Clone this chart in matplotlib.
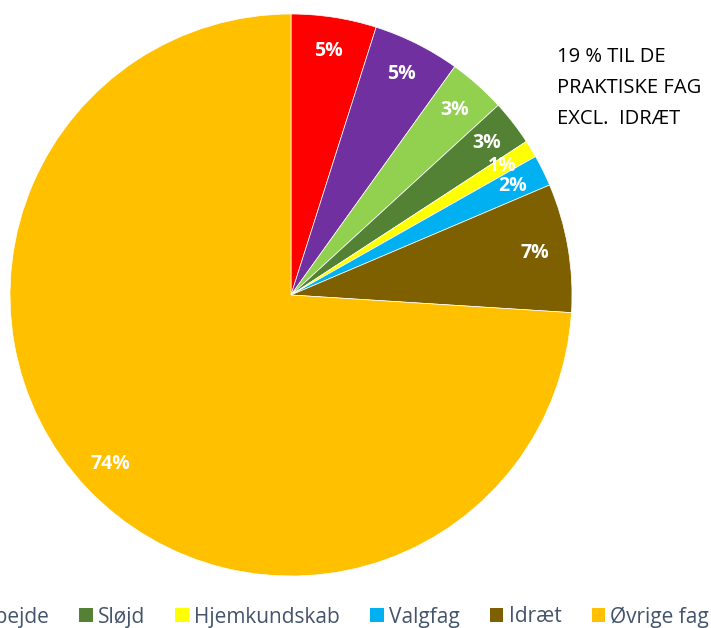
import matplotlib
matplotlib.use("Agg")
import matplotlib.pyplot as plt
from matplotlib.patches import Patch

categories = ["Billedkunst", "Musik", "Håndarbejde", "Sløjd", "Hjemkundskab",
              "Valgfag", "Idræt", "Øvrige fag"]
values = [4.9, 5.0, 3.3, 2.6, 1.0, 1.8, 7.4, 74.0]
colors = ["#FF0000", "#7030A0", "#92D050", "#548235", "#FFFF00",
          "#00B0F0", "#7F6000", "#FFC000"]
note = "19 % TIL DE\nPRAKTISKE FAG\nEXCL.  IDRÆT"

W, H = 711, 628
fig = plt.figure(figsize=(W / 100, H / 100), dpi=100)
cx, cy, R = 291, 295, 281
ax = fig.add_axes([(cx - R) / W, (H - cy - R) / H, 2 * R / W, 2 * R / H])

wedges, texts, autotexts = ax.pie(
    values, colors=colors, startangle=90, counterclock=False,
    autopct=lambda p: f"{p:.0f}%", pctdistance=0.88, radius=1,
    wedgeprops=dict(edgecolor="white", linewidth=0.5),
    textprops=dict(color="white", fontsize=14, fontweight="bold",
                   family=["Open Sans", "DejaVu Sans"]))
ax.set_xlim(-1, 1)
ax.set_ylim(-1, 1)
ax.set_aspect("equal")

fig.text(557 / W, 1 - 47 / H, note, ha="left", va="top", fontsize=14.5,
         linespacing=1.75, color="black", family=["Open Sans", "DejaVu Sans"])

handles = [Patch(facecolor=c, edgecolor="none") for c in colors]
fs = 15
leg = fig.legend(handles, categories, loc="center right",
                 bbox_to_anchor=(709 / W, 1 - 616 / H), ncol=len(categories),
                 frameon=False, handlelength=0.65, handleheight=0.65,
                 handletextpad=0.25, columnspacing=1.45, borderpad=0,
                 borderaxespad=0,
                 prop=dict(family=["Open Sans", "DejaVu Sans"], size=fs))
for t in leg.get_texts():
    t.set_color("#44546A")

fig.savefig("out.png", dpi=100)
